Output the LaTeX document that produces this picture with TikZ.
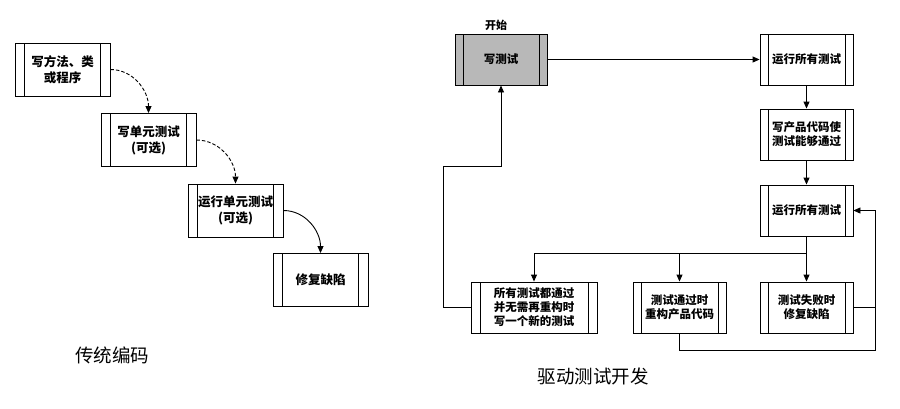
\documentclass[tikz,border=0pt]{standalone}
\usepackage{fontspec}
\setmainfont{Noto Sans CJK SC}
\newfontfamily\cjk{Noto Sans CJK SC}
\usetikzlibrary{arrows.meta}
\begin{document}
\begin{tikzpicture}[x=1pt,y=-1pt,
  line width=0.9pt,
  stripe/.store in=\stripeoff, stripe=8pt,
  box/.style={draw, rectangle, inner sep=0pt, align=center,
    minimum width=93pt, minimum height=51pt,
    font=\cjk\bfseries\fontsize{11.5}{14}\selectfont,
    path picture={
      \draw[line width=0.9pt] ([xshift=\stripeoff]path picture bounding box.north west) -- ([xshift=\stripeoff]path picture bounding box.south west);
      \draw[line width=0.9pt] ([xshift=-\stripeoff]path picture bounding box.north east) -- ([xshift=-\stripeoff]path picture bounding box.south east);
    }},
  lbox/.style={box, stripe=9.5pt, minimum width=95pt, minimum height=53pt,
    font=\cjk\bfseries\fontsize{12.5}{16}\selectfont},
  arr/.style={-{Triangle[length=7pt,width=6pt]}},
  dash/.style={dash pattern=on 3.5pt off 2pt},
  captxt/.style={font=\cjk\fontsize{18.5}{22}\selectfont}
]
\useasboundingbox (0,0) rectangle (900,408);

% traditional coding
\node[lbox] (L1) at (62.5,69.5) {写方法、类\\或程序};
\node[lbox] (L2) at (148.5,140) {写单元测试\\(可选)};
\node[lbox] (L3) at (235.5,210.5) {运行单元测试\\(可选)};
\node[lbox] (L4) at (320.5,280) {修复缺陷};
\draw[arr, dash pattern=on 3.5pt off 2pt] (L1.east) to[out=0,in=90] (L2.north);
\draw[arr, dash pattern=on 3.5pt off 2pt] (L2.east) to[out=0,in=90] (L3.north);
\draw[arr] (L3.east) to[out=0,in=90] (L4.north);
\node[captxt] (c1) at (112,355) {传统编码};

% TDD
\node[box, fill=black!28, minimum width=92pt] (W) at (501,59.5) {写测试};
\node[font=\cjk\bfseries\fontsize{11}{13}\selectfont] (start) at (496,25) {开始};
\node[box] (R1) at (806.5,59.5) {运行所有测试};
\node[box] (P) at (806.5,134.5) {写产品代码使\\测试能够通过};
\node[box] (R2) at (806.5,210.5) {运行所有测试};
\node[box, stripe=9pt, minimum width=126pt] (A) at (534,307.5) {所有测试都通过\\并无需再重构时\\写一个新的测试};
\node[box] (B) at (679.5,307.5) {测试通过时\\重构产品代码};
\node[box] (C) at (806.5,307.5) {测试失败时\\修复缺陷};
\node[captxt] (c2) at (593,376) {驱动测试开发};

\coordinate (jn) at (806.5,253);
\coordinate (a1) at (443,166);
\coordinate (rr) at (875,350);

\draw[arr] (W.east) -- (R1.west);
\draw[arr] (R1.south) -- (P.north);
\draw[arr] (P.south) -- (R2.north);
\draw (R2.south) -- (jn);
\draw[arr] (jn) -| (A.north);
\draw[arr] (jn) -| (B.north);
\draw[arr] (jn) -- (C.north);
\draw[arr] (A.west) -| (a1) -| (W.south);
\draw[arr] (C.east) -- ++(22,0) |- (R2.east);
\draw (B.south) |- (rr) -- (rr |- C.east);
\end{tikzpicture}
\end{document}
